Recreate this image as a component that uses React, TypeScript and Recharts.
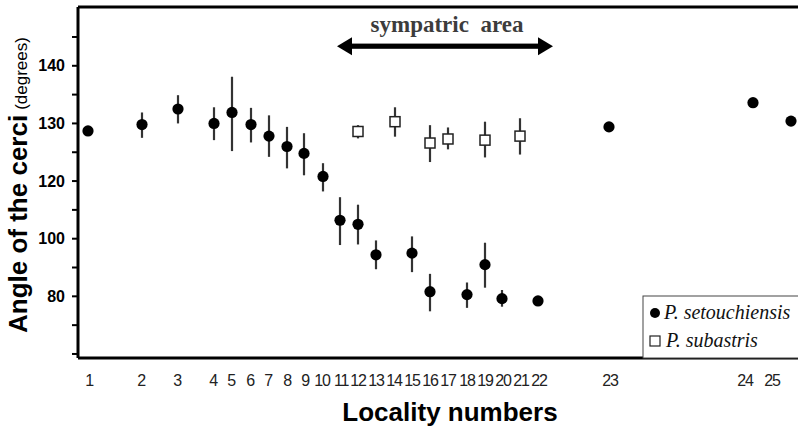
import React from 'react';
import { ComposedChart, Scatter, XAxis, YAxis, ErrorBar, ReferenceLine } from 'recharts';

// locality numbers, position of their dots along the x axis, and where the number labels sit
const localities = [1, 2, 3, 4, 5, 6, 7, 8, 9, 10, 11, 12, 13, 14, 15, 16, 17, 18, 19, 20, 21, 22, 23, 24, 25];
const localityPos = [10, 64, 100, 136, 154, 173, 191, 209, 226, 245, 262, 280, 298, 317, 334, 352, 370, 389, 407, 424, 442, 460, 531, 675, 713];
const labelPos = [11, 63, 99, 135, 153, 172, 190, 209, 227, 244, 263, 280, 298, 316, 334, 352, 370, 389, 407, 425, 443, 461, 532, 667, 694];

// P. setouchiensis (degrees): mean, lower and upper end of the bar
const setLocs = [1, 2, 3, 4, 5, 6, 7, 8, 9, 10, 11, 12, 13, 15, 16, 18, 19, 20, 22, 23, 24, 25];
const setMean = [128.7, 129.8, 132.5, 130.0, 131.9, 129.8, 127.8, 126.0, 124.8, 120.8, 106.4, 105.0, 94.4, 95.0, 81.6, 80.6, 91.0, 79.2, 78.4, 129.4, 133.6, 130.4];
const setLow = [null, 127.5, 130.0, 127.1, 125.2, 126.7, 124.2, 122.2, 121.0, 116.4, 97.8, 98.0, 89.4, 88.4, 74.8, 76.0, 83.0, 76.4, null, null, null, null];
const setHigh = [null, 131.9, 134.9, 132.8, 138.1, 132.7, 131.4, 129.4, 128.3, 123.1, 114.4, 111.8, 99.4, 100.8, 87.8, 84.8, 98.6, 82.2, null, null, null, null];

// P. subastris
const subLocs = [12, 14, 16, 17, 19, 21];
const subMean = [128.6, 130.3, 126.6, 127.3, 127.1, 127.8];
const subLow = [127.4, 127.7, 123.3, 125.5, 124.1, 124.6];
const subHigh = [129.7, 132.8, 129.7, 129.3, 130.3, 130.9];

// y axis: ticks in degrees, only some get a number
const yTicksDeg = [60, 70, 80, 90, 100, 110, 120, 125, 130, 135, 140, 145];
const yLabelDeg = [80, 100, 120, 130, 140];

// sympatric area arrow, in x units (from locality 11 to past 22)
const sympatricSpan = [259, 475];

// the axis is broken at 120: below it 20 degrees take the room of 10
const toAxis = (d: number) => (d >= 120 ? d : 120 - (120 - d) / 2);
const fromAxis = (v: number) => (v >= 120 ? v : 120 - 2 * (120 - v));

const Y_MIN = 89.3;
const Y_MAX = 150.2;
const ARROW_Y = 143.4;

const posOf = (loc: number) => localityPos[localities.indexOf(loc)];

const buildRows = (locs: number[], mean: number[], low: (number | null)[], high: (number | null)[]) =>
  locs.map((loc, i) => {
    const y = toAxis(mean[i]);
    const lo = low[i];
    const hi = high[i];
    return {
      pos: posOf(loc),
      y,
      err: lo != null && hi != null ? [y - toAxis(lo), toAxis(hi) - y] : undefined,
    };
  });

const setData = buildRows(setLocs, setMean, setLow, setHigh);
const subData = buildRows(subLocs, subMean, subLow, subHigh);

const Dot = (p: any) => <circle cx={p.cx} cy={p.cy} r={5.6} fill="#000" />;
const Square = (p: any) => (
  <rect x={p.cx - 5} y={p.cy - 5} width={10} height={10} fill="#fff" stroke="#222" strokeWidth={1.5} />
);

const Arrow = (p: any) => {
  const { x1, x2, y1 } = p;
  const head = 15;
  const half = 9;
  return (
    <g>
      <rect x={x1 + head - 1} y={y1 - 2.6} width={x2 - x1 - 2 * head + 2} height={5.2} fill="#000" />
      <polygon points={`${x1},${y1} ${x1 + head},${y1 - half} ${x1 + head},${y1 + half}`} fill="#000" />
      <polygon points={`${x2},${y1} ${x2 - head},${y1 - half} ${x2 - head},${y1 + half}`} fill="#000" />
      <text
        x={(x1 + x2) / 2 + 2}
        y={y1 - 14}
        textAnchor="middle"
        fontFamily="'Liberation Serif', 'Times New Roman', serif"
        fontWeight="bold"
        fontSize={23}
        fill="#3c3c3c"
        style={{ whiteSpace: 'pre' }}
      >
        {'sympatric  area'}
      </text>
    </g>
  );
};

const YTitle = () => (
  <text x={27} y={333} transform="rotate(-90 27 333)" fill="#000" fontFamily="'Liberation Sans', Arial, sans-serif">
    <tspan fontWeight="bold" fontSize={26}>Angle of the cerci</tspan>
    <tspan fontSize={17} dx={5}>(degrees)</tspan>
  </text>
);

const XTitle = () => (
  <text x={450} y={421} textAnchor="middle" fill="#000" fontFamily="'Liberation Sans', Arial, sans-serif" fontWeight="bold" fontSize={26}>
    Locality numbers
  </text>
);

const Legend = () => (
  <svg width={156} height={64} style={{ position: 'absolute', left: 642, top: 295 }}>
    <rect x={1} y={1} width={160} height={62} fill="#fff" stroke="#444" strokeWidth={1} />
    <circle cx={13} cy={18} r={5} fill="#000" />
    <text x={22} y={24} fontFamily="'Liberation Serif', 'Times New Roman', serif" fontStyle="italic" fontSize={20} fill="#111">
      P. setouchiensis
    </text>
    <rect x={8} y={41} width={10} height={10} fill="#fff" stroke="#222" strokeWidth={1.2} />
    <text x={24} y={52} fontFamily="'Liberation Serif', 'Times New Roman', serif" fontStyle="italic" fontSize={20} fill="#111">
      P. subastris
    </text>
  </svg>
);

export default function App() {
  return (
    <div style={{ position: 'absolute', left: 0, top: 0, width: 798, height: 429, background: '#fff', overflow: 'hidden' }}>
      <ComposedChart width={798} height={429} margin={{ top: 7, right: 0, bottom: 0, left: 0 }}>
        <XAxis
          type="number"
          dataKey="pos"
          domain={[0, 720]}
          allowDataOverflow
          ticks={labelPos}
          interval={0}
          tickFormatter={(v: number) => String(localities[labelPos.indexOf(v)] ?? '')}
          tickLine={false}
          tickMargin={11}
          axisLine={{ stroke: '#000', strokeWidth: 3 }}
          tick={{ fill: '#222', fontSize: 16, letterSpacing: -1.2, fontFamily: "'Liberation Sans Narrow', 'Liberation Sans', Arial, sans-serif" }}
          height={71}
          label={<XTitle />}
        />
        <YAxis
          type="number"
          dataKey="y"
          domain={[Y_MIN, Y_MAX]}
          allowDataOverflow
          ticks={yTicksDeg.map(toAxis)}
          interval={0}
          tickFormatter={(v: number) => {
            const d = Math.round(fromAxis(v));
            return yLabelDeg.includes(d) ? String(d) : '';
          }}
          width={78}
          tickSize={6}
          tickMargin={7}
          axisLine={{ stroke: '#000', strokeWidth: 3 }}
          tickLine={{ stroke: '#000', strokeWidth: 2 }}
          tick={{ fill: '#000', fontSize: 16, fontWeight: 'bold', fontFamily: "'Liberation Sans', Arial, sans-serif" }}
          label={<YTitle />}
        />
        <ReferenceLine y={Y_MAX} stroke="#000" strokeWidth={3} />
        <ReferenceLine
          segment={[
            { x: sympatricSpan[0], y: ARROW_Y },
            { x: sympatricSpan[1], y: ARROW_Y },
          ]}
          shape={Arrow}
        />
        <Scatter data={setData} dataKey="y" shape={Dot} isAnimationActive={false}>
          <ErrorBar dataKey="err" direction="y" width={0} stroke="#333" strokeWidth={2.2} />
        </Scatter>
        <Scatter data={subData} dataKey="y" shape={Square} isAnimationActive={false}>
          <ErrorBar dataKey="err" direction="y" width={0} stroke="#333" strokeWidth={2.2} />
        </Scatter>
      </ComposedChart>
      <Legend />
    </div>
  );
}
